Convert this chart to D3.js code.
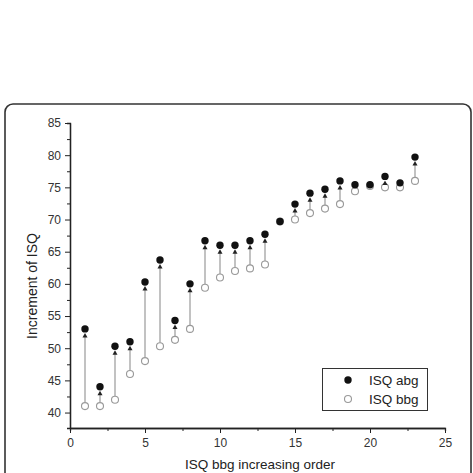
<!doctype html>
<html>
    <head>
        <title>ISQ increment</title>
        <script src="https://cdn.jsdelivr.net/npm/d3@7"></script>
        <style>
            html, body { margin: 0; padding: 0; background: #fff; }
            svg { display: block; font-family: 'Liberation Sans', Arial, sans-serif; }
        </style>
    </head>
    <body>
        <svg width="473" height="473"></svg>
        <script>
            // order of implants (sorted by bbg)
            var order = d3.range(1, 24);
            var isqAbg = [53, 44, 50.3, 51, 60.3, 63.7, 54.3, 60, 66.7, 66, 66, 66.7, 67.7, 69.7, 72.4, 74.1, 74.7, 76, 75.4, 75.4, 76.7, 75.7, 79.7];
            var isqBbg = [41, 41, 42, 46, 48, 50.3, 51.3, 53, 59.4, 61, 62, 62.4, 63, 69.7, 70, 71, 71.7, 72.4, 74.4, 75.2, 75, 75, 76];
            var xTicks = [0, 5, 10, 15, 20, 25];
            var yTicks = [40, 45, 50, 55, 60, 65, 70, 75, 80, 85];

            var svg = d3.select('svg');

            // outer frame
            svg.append('rect')
                .attr('x', 5).attr('y', 104)
                .attr('width', 466).attr('height', 390)
                .attr('rx', 8)
                .attr('fill', 'none')
                .attr('stroke', '#333')
                .attr('stroke-width', 1.6);

            var x = d3.scaleLinear().domain([0, 25]).range([70, 445]);
            var y = d3.scaleLinear().domain([37.6, 85]).range([428, 123]);

            var g = svg.append('g');

            // minor ticks
            var xMinor = d3.axisBottom(x).tickValues(d3.range(2.5, 25, 5)).tickSize(3).tickFormat('');
            var yMinor = d3.axisLeft(y).tickValues(d3.range(42.5, 85, 5)).tickSize(3).tickFormat('');
            g.append('g').attr('transform', 'translate(0,428)').call(xMinor);
            g.append('g').attr('transform', 'translate(70,0)').call(yMinor);

            g.append('g').attr('transform', 'translate(0,428)')
                .call(d3.axisBottom(x).tickValues(xTicks).tickSize(5).tickSizeOuter(0).tickPadding(5));
            g.append('g').attr('transform', 'translate(70,0)')
                .call(d3.axisLeft(y).tickValues(yTicks).tickSize(5).tickSizeOuter(0).tickPadding(4));

            g.selectAll('.domain').attr('stroke', '#222').attr('stroke-width', 1.3);
            g.selectAll('.tick line').attr('stroke', '#222');
            g.selectAll('.tick text').attr('font-size', 12).attr('fill', '#333').attr('font-family', 'Liberation Sans, Arial, sans-serif');

            // axis titles
            svg.append('text')
                .attr('x', 260).attr('y', 469)
                .attr('text-anchor', 'middle')
                .attr('font-size', 13.5).attr('fill', '#222')
                .text('ISQ bbg increasing order');
            svg.append('text')
                .attr('transform', 'translate(37,286) rotate(-90)')
                .attr('text-anchor', 'middle')
                .attr('font-size', 14).attr('fill', '#222')
                .text('Increment of ISQ');

            var pts = order.map(function(d, i) { return {n: d, a: isqAbg[i], b: isqBbg[i]}; });
            var gaps = pts.filter(function(d) { return d.a - d.b > 1.2; });

            var marks = svg.append('g');
            // stems
            marks.selectAll('line.stem').data(gaps)
                .enter().append('line')
                .attr('x1', function(d) { return x(d.n); })
                .attr('x2', function(d) { return x(d.n); })
                .attr('y1', function(d) { return y(d.b) - 3.5; })
                .attr('y2', function(d) { return y(d.a) + 6; })
                .attr('stroke', '#999')
                .attr('stroke-width', 1.2);

            // open circles (bbg)
            marks.selectAll('circle.bbg').data(pts)
                .enter().append('circle')
                .attr('cx', function(d) { return x(d.n); })
                .attr('cy', function(d) { return y(d.b); })
                .attr('r', 3.5)
                .attr('fill', '#fff')
                .attr('stroke', '#999')
                .attr('stroke-width', 1.1);

            // arrowheads
            marks.selectAll('path.arrow').data(gaps)
                .enter().append('path')
                .attr('d', function(d) {
                    var cx = x(d.n), cy = y(d.a) + 4;
                    return 'M' + cx + ',' + cy + 'L' + (cx - 2.5) + ',' + (cy + 4.5) + 'L' + (cx + 2.5) + ',' + (cy + 4.5) + 'Z';
                })
                .attr('fill', '#222');

            // filled circles (abg)
            marks.selectAll('circle.abg').data(pts)
                .enter().append('circle')
                .attr('cx', function(d) { return x(d.n); })
                .attr('cy', function(d) { return y(d.a); })
                .attr('r', 3.7)
                .attr('fill', '#111');

            // legend
            var lg = svg.append('g');
            lg.append('rect')
                .attr('x', 322.5).attr('y', 368.5)
                .attr('width', 105).attr('height', 42)
                .attr('fill', '#fff')
                .attr('stroke', '#333');
            lg.append('circle').attr('cx', 348).attr('cy', 380).attr('r', 3.7).attr('fill', '#111');
            lg.append('circle').attr('cx', 348).attr('cy', 399).attr('r', 3.5).attr('fill', '#fff').attr('stroke', '#999').attr('stroke-width', 1.1);
            lg.append('text').attr('x', 369).attr('y', 384.5).attr('font-size', 13.5).attr('fill', '#222').text('ISQ abg');
            lg.append('text').attr('x', 369).attr('y', 403.5).attr('font-size', 13.5).attr('fill', '#222').text('ISQ bbg');
        </script>
    </body>
</html>
